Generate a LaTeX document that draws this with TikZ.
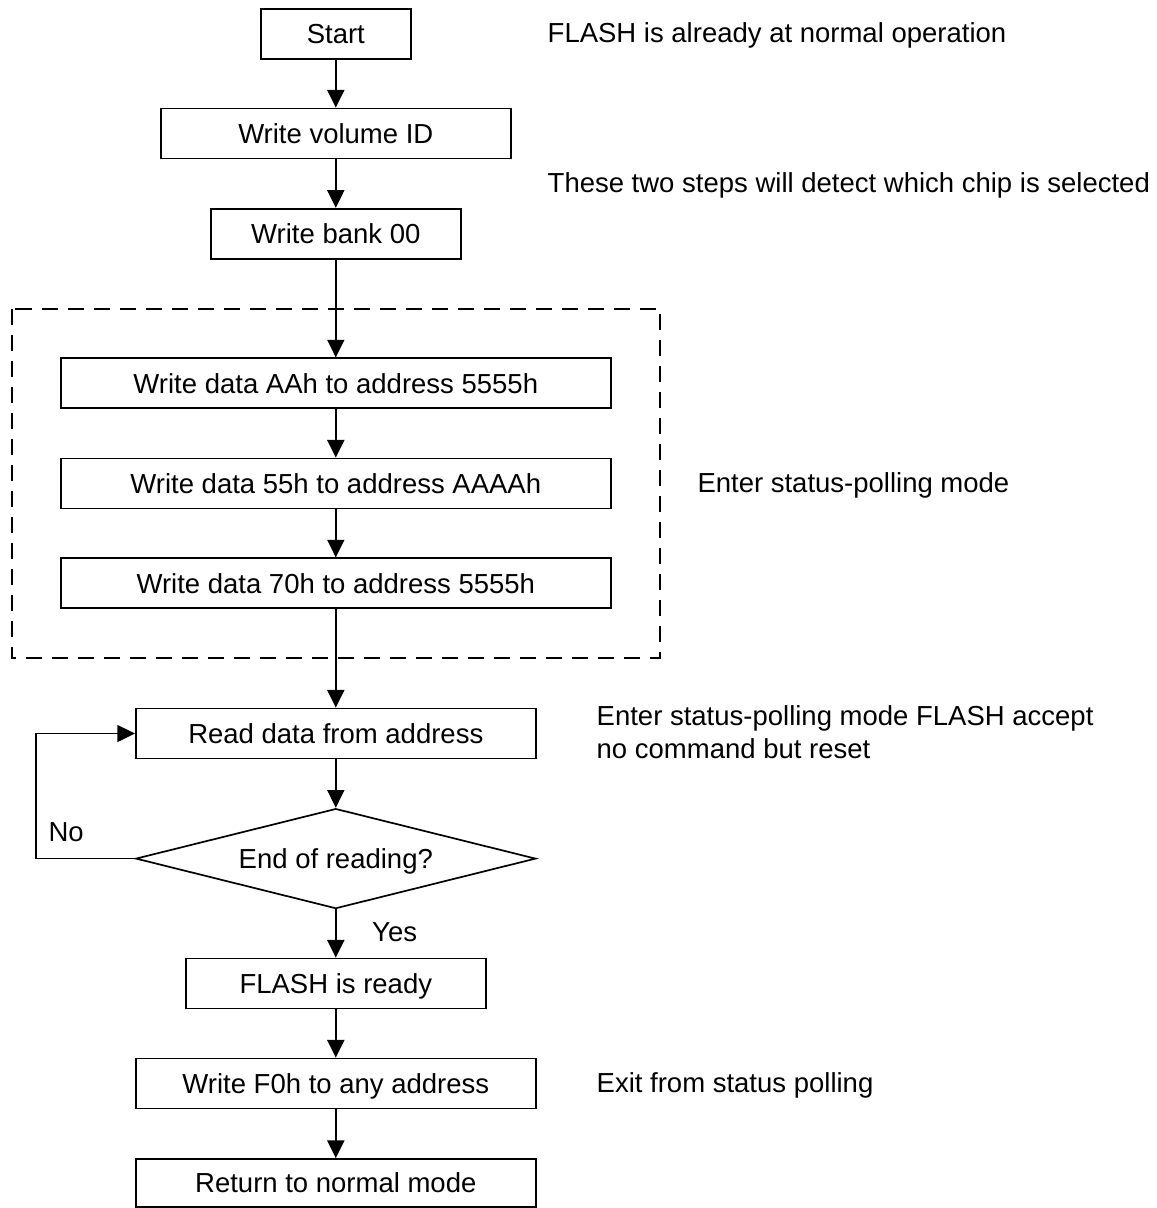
\documentclass[tikz,border=0pt]{standalone}
\usepackage{fontspec}
\setmainfont{Liberation Sans}
\usetikzlibrary{shapes.geometric,arrows.meta}

\begin{document}
\begin{tikzpicture}[x=1pt,y=-1pt,
  every node/.style={font=\fontsize{27.5pt}{33pt}\selectfont},
  stepbox/.style={draw,line width=1.7pt,inner sep=0pt,minimum height=50pt,
    text height=19.7pt,text depth=0pt},
  decision/.style={draw,line width=1.7pt,diamond,aspect=4,inner sep=0pt,
    minimum width=400pt,minimum height=100pt,text height=19.7pt,text depth=0pt},
  note/.style={anchor=base west,inner sep=0pt},
  flow/.style={line width=1.7pt,-{Triangle[length=17.7pt,width=17pt]}},
  group/.style={line width=1.7pt,dash pattern=on 16pt off 10pt}]

\useasboundingbox (0,0) rectangle (1157,1208);

% main column of steps
\node[stepbox,minimum width=150pt] (start) at (335.8,34) {Start};
\node[stepbox,minimum width=350pt] (vol)   at (335.8,133.5) {Write volume ID};
\node[stepbox,minimum width=250pt] (bank)  at (335.8,233.7) {Write bank 00};
\node[stepbox,minimum width=550pt] (aa)    at (335.8,383.3) {Write data AAh to address 5555h};
\node[stepbox,minimum width=550pt] (ff)    at (335.8,483.5) {Write data 55h to address AAAAh};
\node[stepbox,minimum width=550pt] (sev)   at (335.8,583.3) {Write data 70h to address 5555h};
\node[stepbox,minimum width=400pt] (read)  at (335.8,733.5) {Read data from address};
\node[decision] (dec) at (335.8,858.6) {End of reading?};
\node[stepbox,minimum width=300pt] (ready) at (335.8,983.5) {FLASH is ready};
\node[stepbox,minimum width=400pt] (f0)    at (335.8,1083.5) {Write F0h to any address};
\node[stepbox,minimum width=400pt,minimum height=48pt] (ret) at (335.8,1183) {Return to normal mode};

% dashed frame round the command sequence
\draw[group] (11.7,309) rectangle (660.3,658.3);

% connectors
\draw[flow] (start) -- (vol);
\draw[flow] (vol) -- (bank);
\draw[flow] (bank) -- (aa);
\draw[flow] (aa) -- (ff);
\draw[flow] (ff) -- (sev);
\draw[flow] (sev) -- (read);
\draw[flow] (read) -- (dec);
\draw[flow] (dec) -- (ready);
\draw[flow] (ready) -- (f0);
\draw[flow] (f0) -- (ret);

\coordinate (loop) at (35.7,800);
\draw[flow] (dec.west) -| (loop) |- (read.west);

% branch labels
\node[note] (no)  at (48.3,841.7) {No};
\node[note] (yes) at (372,941.7) {Yes};

% side notes
\node[note] (n1) at (547.5,42.3) {FLASH is already at normal operation};
\node[note] (n2) at (547.5,192.3) {These two steps will detect which chip is selected};
\node[note] (n3) at (697.3,492.3) {Enter status-polling mode};
\node[note] (n4) at (596.5,725.3) {Enter status-polling mode FLASH accept};
\node[note] (n5) at (596.5,758.5) {no command but reset};
\node[note] (n6) at (596.5,1092.5) {Exit from status polling};
\end{tikzpicture}
\end{document}
